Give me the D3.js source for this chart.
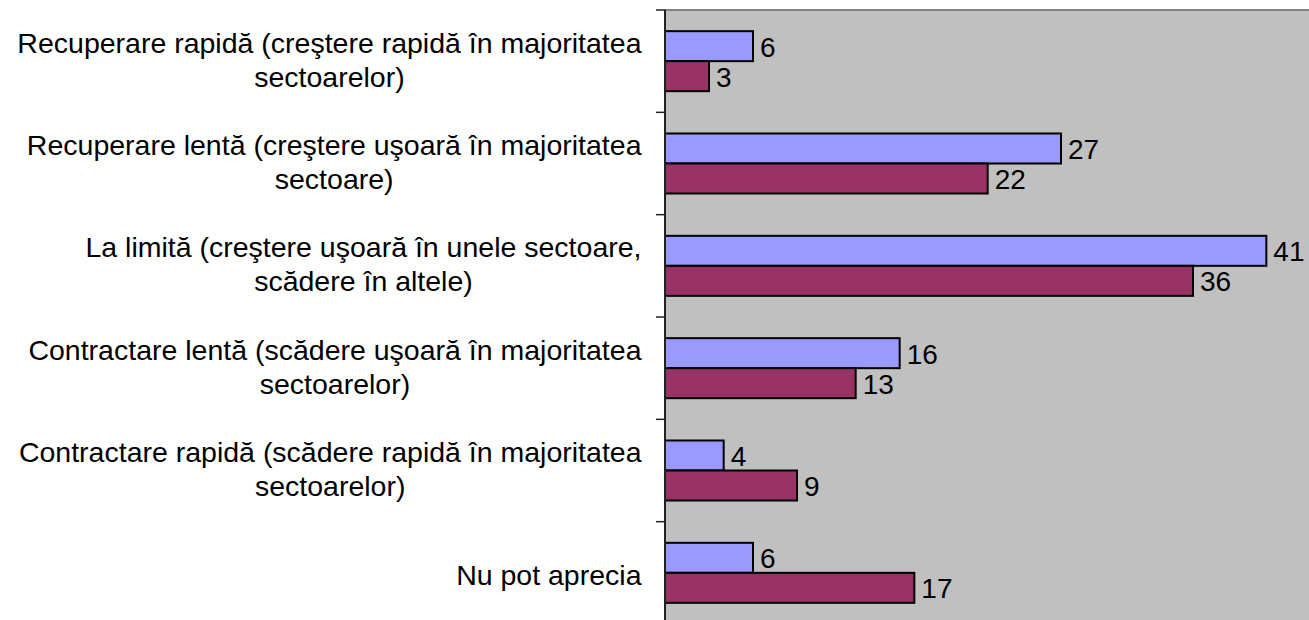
<!DOCTYPE html>
<html>
<head>
<meta charset="utf-8">
<script src="https://cdn.jsdelivr.net/npm/d3@7"></script>
<style>
  body { margin: 0; background: #fff; }
  svg text { font-family: "Liberation Sans", Arial, sans-serif; fill: #000; }
</style>
</head>
<body>
<svg id="chart" width="1309" height="620"></svg>
<script>
// category labels, already wrapped the way the original shows them
const categories = [
    ['Recuperare rapidă (creştere rapidă în majoritatea', 'sectoarelor)'],
    ['Recuperare lentă (creştere uşoară în majoritatea', 'sectoare)'],
    ['La limită (creştere uşoară în unele sectoare,', 'scădere în altele)'],
    ['Contractare lentă (scădere uşoară în majoritatea', 'sectoarelor)'],
    ['Contractare rapidă (scădere rapidă în majoritatea', 'sectoarelor)'],
    ['Nu pot aprecia']
]
const seriesNames = ['s1', 's2']
const seriesA = [6, 27, 41, 16, 4, 6]
const seriesB = [3, 22, 36, 13, 9, 17]
const seriesColors = ['#9999ff', '#993366']

const width = 1309, height = 620
const plot = { left: 665, top: 10, right: 1325, bottom: 624 }

const svg = d3.select('#chart')

const yScale = d3.scaleBand()
    .domain(d3.range(categories.length))
    .range([plot.top, plot.bottom])
    .paddingInner(0.4135)
    .paddingOuter(0.2067)

const subScale = d3.scaleBand()
    .domain(seriesNames)
    .range([0, yScale.bandwidth()])

const xScale = d3.scaleLinear().domain([0, 45]).range([plot.left, plot.right])

// plot background
svg.append('rect')
    .attr('x', plot.left).attr('y', plot.top)
    .attr('width', plot.right - plot.left).attr('height', plot.bottom - plot.top)
    .attr('fill', '#c0c0c0')
    .attr('stroke', '#808080').attr('stroke-width', 2)

// bars
const rows = categories.map((c, i) => ({ i, values: [seriesA[i], seriesB[i]] }))
const groups = svg.append('g').selectAll('g').data(rows).join('g')
    .attr('transform', d => `translate(0, ${yScale(d.i)})`)

groups.selectAll('rect').data(d => d.values.map((v, k) => ({ v, k })))
    .join('rect')
    .attr('x', xScale(0))
    .attr('y', d => subScale(seriesNames[d.k]))
    .attr('width', d => xScale(d.v) - xScale(0))
    .attr('height', subScale.bandwidth())
    .attr('fill', d => seriesColors[d.k])
    .attr('stroke', '#000').attr('stroke-width', 2)

// value labels
groups.selectAll('text').data(d => d.values.map((v, k) => ({ v, k })))
    .join('text')
    .attr('x', d => xScale(d.v) + 7)
    .attr('y', d => subScale(seriesNames[d.k]) + subScale.bandwidth() / 2 + 10.5)
    .attr('font-size', 28)
    .text(d => d.v)

// category axis (left)
const axisLine = svg.append('g')
axisLine.append('line')
    .attr('x1', plot.left).attr('x2', plot.left)
    .attr('y1', plot.top).attr('y2', plot.bottom)
    .attr('stroke', '#222').attr('stroke-width', 2)
axisLine.selectAll('line.tick')
    .data(d3.range(categories.length + 1))
    .join('line')
    .attr('class', 'tick')
    .attr('x1', plot.left - 9).attr('x2', plot.left)
    .attr('y1', i => plot.top + i * yScale.step())
    .attr('y2', i => plot.top + i * yScale.step())
    .attr('stroke', '#222').attr('stroke-width', 1.5)

// category labels: block right aligned, lines centred inside the block
const lineH = 34
const labelRight = 641.5
categories.forEach((lines, i) => {
    const cy = yScale(i) + yScale.bandwidth() / 2
    const g = svg.append('g')
    const texts = lines.map((ln, j) => g.append('text')
        .attr('font-size', 28.5)
        .attr('text-anchor', 'middle')
        .attr('y', cy + (j - (lines.length - 1) / 2) * lineH + (lines.length > 1 ? 8.5 : 12))
        .text(ln))
    const maxW = d3.max(texts, t => t.node().getComputedTextLength())
    texts.forEach(t => t.attr('x', labelRight - maxW / 2))
})
</script>
</body>
</html>
